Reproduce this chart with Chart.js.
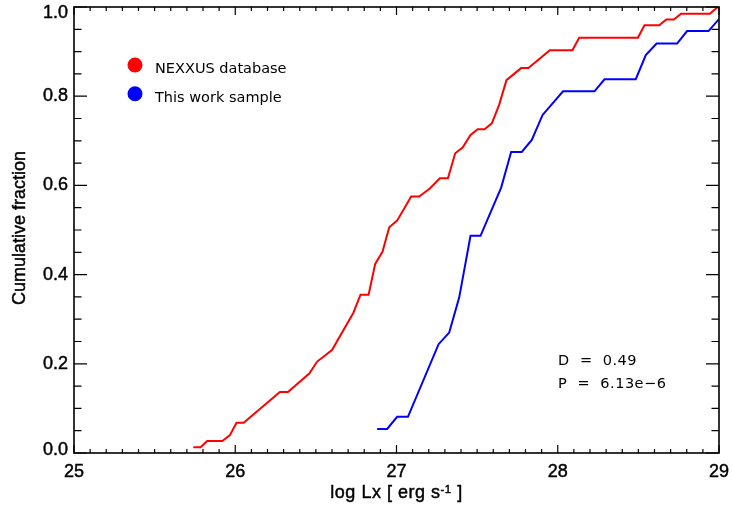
<!DOCTYPE html>
<html>
<head>
<meta charset="utf-8">
<script src="https://cdn.jsdelivr.net/npm/chart.js@4.4.1/dist/chart.umd.min.js"></script>
<style>
  html, body { margin: 0; padding: 0; background: #fff; }
  #wrap { width: 732px; height: 509px; }
</style>
</head>
<body>
<div id="wrap"><canvas id="c" width="732" height="509"></canvas></div>
<script>
// cumulative distributions of log Lx
const nexxusLogLx = [25.74, 25.785, 25.826, 25.92, 25.967, 26.008, 26.052, 26.277, 26.327, 26.459,
  26.508, 26.6, 26.732, 26.777, 26.827, 26.868, 26.913, 26.955, 27.004, 27.091, 27.141, 27.207,
  27.269, 27.319, 27.364, 27.41, 27.459, 27.504, 27.546, 27.591, 27.636, 27.682, 27.773, 27.818,
  27.951, 28.091, 28.133, 28.497, 28.538, 28.629, 28.674, 28.72, 28.765, 28.943, 28.993];
const nexxusFrac = [0.013, 0.013, 0.027, 0.027, 0.040, 0.068, 0.068, 0.137, 0.137, 0.178,
  0.205, 0.231, 0.314, 0.355, 0.355, 0.424, 0.451, 0.506, 0.521, 0.575, 0.575, 0.593,
  0.616, 0.616, 0.672, 0.685, 0.713, 0.726, 0.726, 0.739, 0.780, 0.836, 0.863, 0.863,
  0.903, 0.903, 0.931, 0.931, 0.959, 0.959, 0.972, 0.972, 0.985, 0.985, 1.0];

const sampleLogLx = [26.88, 26.942, 27.004, 27.071, 27.261, 27.327, 27.389, 27.459, 27.521, 27.649,
  27.711, 27.777, 27.839, 27.906, 28.033, 28.228, 28.29, 28.484, 28.546, 28.613, 28.74, 28.802,
  28.935, 29.0];
const sampleFrac = [0.054, 0.054, 0.081, 0.081, 0.244, 0.270, 0.349, 0.487, 0.487, 0.595,
  0.675, 0.675, 0.702, 0.758, 0.811, 0.811, 0.838, 0.838, 0.892, 0.918, 0.918, 0.946,
  0.946, 0.973];

const seriesNames = ['NEXXUS database', 'This work sample'];
const xTickValues = [25, 26, 27, 28, 29];
const yTickValues = [0, 0.2, 0.4, 0.6, 0.8, 1.0];
const yTickLabels = ['0.0', '0.2', '0.4', '0.6', '0.8', '1.0'];
const ksLines = ['D  =  0.49', 'P  =  6.13e\u22126'];

const xMinorStep = 0.1;
const yMinorStep = 0.05;

const toPoints = (xs, ys) => xs.map((x, i) => ({ x, y: ys[i] }));

const helv = "'Liberation Sans', Arial, sans-serif";
const tickFont = '18px ' + helv;
const idlFont = "14.5px 'DejaVu Sans', sans-serif";

// text a little heavier, like the IDL postscript output
function heavyText(ctx, s, x, y) {
  ctx.fillText(s, x, y);
  ctx.strokeText(s, x, y);
}

// box, inward ticks on all sides, labels, legend and KS text
const idlFrame = {
  id: 'idlFrame',
  afterDatasetsDraw(chart) {
    const { ctx, chartArea: a, scales: { x, y } } = chart;
    ctx.save();
    ctx.strokeStyle = '#000';
    ctx.lineWidth = 1.2;
    ctx.beginPath();
    const nx = Math.round((x.max - x.min) / xMinorStep);
    for (let i = 0; i <= nx; i++) {
      const px = x.getPixelForValue(x.min + i * xMinorStep);
      const len = i % 10 === 0 ? 8 : 4;
      ctx.moveTo(px, a.bottom); ctx.lineTo(px, a.bottom - len);
      ctx.moveTo(px, a.top); ctx.lineTo(px, a.top + len);
    }
    const ny = Math.round((y.max - y.min) / yMinorStep);
    for (let i = 0; i <= ny; i++) {
      const py = y.getPixelForValue(y.min + i * yMinorStep);
      const len = i % 4 === 0 ? 13 : 7.5;
      ctx.moveTo(a.left, py); ctx.lineTo(a.left + len, py);
      ctx.moveTo(a.right, py); ctx.lineTo(a.right - len, py);
    }
    ctx.stroke();
    ctx.lineWidth = 1.6;
    ctx.strokeRect(a.left, a.top, a.right - a.left, a.bottom - a.top);

    ctx.fillStyle = '#000';
    ctx.lineWidth = 0.45;
    ctx.font = tickFont;

    // y tick labels, end ones kept inside the box like IDL does
    ctx.textAlign = 'right';
    ctx.textBaseline = 'middle';
    yTickValues.forEach((v, i) => {
      let py = y.getPixelForValue(v);
      py = Math.min(Math.max(py, a.top + 6.5), a.bottom - 3);
      heavyText(ctx, yTickLabels[i], a.left - 6, py);
    });

    // x tick labels
    ctx.textAlign = 'center';
    xTickValues.forEach((v) => {
      heavyText(ctx, String(v), x.getPixelForValue(v), a.bottom + 19);
    });

    // y axis title
    ctx.save();
    ctx.translate(20, (a.top + a.bottom) / 2 - 2);
    ctx.rotate(-Math.PI / 2);
    heavyText(ctx, 'Cumulative fraction', 0, 0);
    ctx.restore();

    // x axis title with superscript
    const cx = (a.left + a.right) / 2;
    const base = 498;
    ctx.textAlign = 'left';
    ctx.textBaseline = 'alphabetic';
    ctx.letterSpacing = '0.5px';
    const supFont = '11.5px ' + helv;
    const t1 = 'log Lx [ erg s', sup = '-1', t3 = ' ]';
    const w1 = ctx.measureText(t1).width, w3 = ctx.measureText(t3).width;
    ctx.font = supFont;
    const w2 = ctx.measureText(sup).width;
    const sx = cx - (w1 + w2 + w3) / 2;
    ctx.font = tickFont;
    heavyText(ctx, t1, sx, base);
    ctx.font = supFont;
    heavyText(ctx, sup, sx + w1, base - 5.5);
    ctx.font = tickFont;
    heavyText(ctx, t3, sx + w1 + w2, base);
    ctx.letterSpacing = '0px';

    // legend
    ctx.font = idlFont;
    chart.data.datasets.forEach((ds, i) => {
      const ly = 65 + i * 28.7;
      ctx.fillStyle = ds.borderColor;
      ctx.beginPath();
      ctx.arc(a.left + 61, ly, 7.5, 0, Math.PI * 2);
      ctx.fill();
      ctx.fillStyle = '#000';
      ctx.fillText(ds.label, a.left + 81, ly + 8.3);
    });

    // KS test result
    ctx.letterSpacing = '0.5px';
    ksLines.forEach((s, i) => {
      ctx.fillText(s, 558, 365 + i * 22.5);
    });
    ctx.restore();
  }
};

new Chart(document.getElementById('c'), {
  type: 'scatter',
  data: {
    datasets: [
      { label: seriesNames[0], data: toPoints(nexxusLogLx, nexxusFrac), borderColor: '#ff0000' },
      { label: seriesNames[1], data: toPoints(sampleLogLx, sampleFrac), borderColor: '#0000ff' },
    ],
  },
  options: {
    responsive: false,
    animation: false,
    showLine: true,
    layout: { padding: { left: 0, top: 7, right: 13, bottom: 0 } },
    elements: {
      point: { radius: 0 },
      line: { borderWidth: 2, tension: 0, fill: false },
    },
    plugins: { legend: { display: false }, tooltip: { enabled: false } },
    scales: {
      x: {
        type: 'linear',
        min: 25,
        max: 29,
        grid: { display: false, drawTicks: false },
        border: { display: false },
        ticks: { display: false, stepSize: 1 },
        afterFit: (s) => { s.height = 56; s.paddingLeft = 0; s.paddingRight = 0; },
      },
      y: {
        type: 'linear',
        min: 0,
        max: 1,
        grid: { display: false, drawTicks: false },
        border: { display: false },
        ticks: { display: false, stepSize: 0.2 },
        afterFit: (s) => { s.width = 74; s.paddingTop = 0; s.paddingBottom = 0; },
      },
    },
  },
  plugins: [idlFrame],
});
</script>
</body>
</html>
